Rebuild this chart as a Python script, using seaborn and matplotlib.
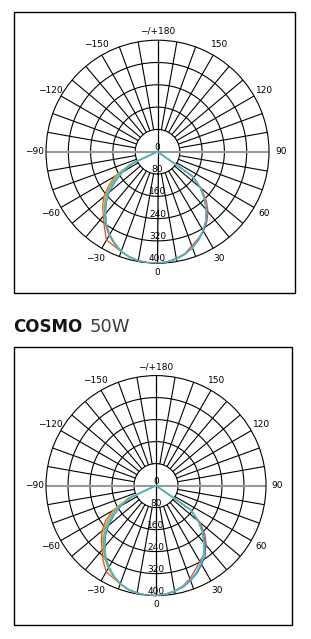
import numpy as np
import pandas as pd
import matplotlib
matplotlib.use("Agg")
import matplotlib.pyplot as plt
from matplotlib.patches import Rectangle
import seaborn as sns

sns.set_style("white")
plt.rcParams['font.family'] = ['DejaVu Sans']

# ---------------- data ----------------
ANGLES = [-90, -85, -80, -75, -70, -65, -60, -55, -50, -45, -40, -35, -30, -25, -20, -15, -10, -5,
          0, 5, 10, 15, 20, 25, 30, 35, 40, 45, 50, 55, 60, 65, 70, 75, 80, 85, 90]

SERIES = ["C0", "C45", "C90", "C135", "C180"]
COLORS = ["#e2463f", "#e9a93a", "#67b85a", "#3d6fd6", "#4cc3c6"]

# top diagram (cd)
TOP_RED    = [0, 0, 0, 0, 0, 105, 178, 214, 252, 278, 302, 332, 366, 372, 381, 390, 396, 399,
              399, 396, 389, 378, 360, 344, 330, 308, 282, 248, 205, 150, 0, 0, 0, 0, 0, 0, 0]
TOP_ORANGE = [0, 0, 0, 0, 0, 114, 172, 207, 246, 273, 298, 325, 348, 366, 382, 392, 398, 400,
              400, 397, 390, 380, 366, 348, 327, 304, 274, 240, 202, 156, 0, 0, 0, 0, 0, 0, 0]
TOP_GREEN  = [0, 0, 0, 0, 0, 108, 163, 200, 238, 268, 295, 322, 345, 364, 381, 391, 397, 400,
              400, 397, 390, 380, 366, 348, 326, 302, 271, 237, 199, 152, 0, 0, 0, 0, 0, 0, 0]
TOP_BLUE   = [0, 0, 0, 0, 0, 94, 144, 184, 226, 260, 290, 320, 344, 363, 380, 391, 397, 400,
              400, 397, 391, 381, 367, 350, 328, 306, 273, 238, 200, 154, 0, 0, 0, 0, 0, 0, 0]
TOP_CYAN   = [0, 0, 0, 0, 0, 100, 150, 190, 230, 262, 290, 318, 342, 362, 380, 391, 397, 400,
              400, 397, 390, 380, 366, 348, 326, 303, 272, 238, 200, 155, 0, 0, 0, 0, 0, 0, 0]

# bottom diagram (cd)
BOT_RED    = [0, 0, 0, 0, 0, 110, 182, 224, 256, 281, 305, 335, 362, 370, 380, 390, 396, 399,
              399, 396, 389, 378, 360, 338, 318, 304, 284, 252, 210, 152, 0, 0, 0, 0, 0, 0, 0]
BOT_ORANGE = [0, 0, 0, 0, 0, 116, 174, 212, 249, 275, 300, 326, 348, 366, 382, 392, 398, 400,
              400, 397, 390, 380, 366, 348, 327, 304, 275, 242, 204, 158, 0, 0, 0, 0, 0, 0, 0]
BOT_GREEN  = [0, 0, 0, 0, 0, 110, 165, 202, 240, 270, 296, 322, 345, 364, 381, 391, 397, 400,
              400, 397, 390, 380, 366, 348, 326, 302, 271, 237, 199, 152, 0, 0, 0, 0, 0, 0, 0]
BOT_BLUE   = [0, 0, 0, 0, 0, 96, 146, 186, 226, 260, 290, 318, 342, 362, 380, 391, 397, 400,
              400, 397, 391, 382, 368, 352, 332, 312, 280, 242, 202, 155, 0, 0, 0, 0, 0, 0, 0]
BOT_CYAN   = [0, 0, 0, 0, 0, 102, 152, 192, 232, 264, 290, 318, 342, 362, 380, 391, 397, 400,
              400, 397, 390, 380, 366, 348, 326, 303, 272, 238, 200, 155, 0, 0, 0, 0, 0, 0, 0]

RING_VALUES = [0, 80, 160, 240, 320, 400]
ANGLE_TICKS = [0, 30, 60, 90, 120, 150, 180, -150, -120, -90, -60, -30]
ANGLE_LABELS = ["0", "30", "60", "90", "120", "150", "\u2212/+180", "\u2212150", "\u2212120",
                "\u221290", "\u221260", "\u221230"]

TITLE_BOLD = "COSMO"
TITLE_LIGHT = "50W"

W, H = 311, 639


def long_frame(curves):
    rows = []
    for name, vals in zip(SERIES, curves):
        for a, v in zip(ANGLES, vals):
            rows.append({"theta": np.deg2rad(a), "r": v, "series": name})
    return pd.DataFrame(rows)


def draw_diagram(ax, curves):
    ax.set_theta_zero_location("S")
    ax.set_theta_direction(1)
    ax.set_ylim(0, 400)
    ax.grid(False)
    ax.set_xticks([])
    ax.set_yticks([])
    ax.spines["polar"].set_linewidth(0.8)
    ax.spines["polar"].set_color("black")
    ax.set_facecolor("white")
    circ = np.linspace(0, 2 * np.pi, 361)
    for rv in RING_VALUES[1:-1]:
        ax.plot(circ, np.full_like(circ, rv), color="black", lw=0.8, zorder=1)
    for deg in range(0, 360, 10):
        if deg % 90 == 0:
            continue
        t = np.deg2rad(deg)
        ax.plot([t, t], [80, 400], color="black", lw=0.8, zorder=1)
    # vertical axis line (black) and horizontal axis line (gray)
    ax.plot([0, 0], [0, 400], color="black", lw=0.9, zorder=1)
    ax.plot([np.pi, np.pi], [0, 400], color="black", lw=0.9, zorder=1)
    ax.plot([np.pi / 2, np.pi / 2], [0, 400], color="#9a9a9a", lw=1.5, zorder=1)
    ax.plot([-np.pi / 2, -np.pi / 2], [0, 400], color="#9a9a9a", lw=1.5, zorder=1)

    df = long_frame(curves)
    sns.lineplot(data=df, x="theta", y="r", hue="series", palette=COLORS, sort=False,
                 estimator=None, legend=False, lw=0.9, ax=ax, zorder=3)
    ax.set_xlabel("")
    ax.set_ylabel("")

    for rv in RING_VALUES:
        ax.text(0, rv, str(rv), ha="center", va="bottom", fontsize=6.5, color="black",
                zorder=4)
    for a, lab in zip(ANGLE_TICKS, ANGLE_LABELS):
        rr = 432 if a % 180 == 0 else 442
        ax.text(np.deg2rad(a), rr, lab, ha="center", va="center", fontsize=6.5,
                color="black", clip_on=False)


fig = plt.figure(figsize=(W / 100, H / 100), dpi=100)

# frames
fig.add_artist(Rectangle((14 / W, 1 - 293 / H), (295 - 14) / W, (293 - 12) / H,
                         transform=fig.transFigure, fill=False, lw=1.0, ec="black"))
fig.add_artist(Rectangle((14 / W, 1 - 625 / H), (292 - 14) / W, (625 - 347) / H,
                         transform=fig.transFigure, fill=False, lw=1.0, ec="black"))

cx, cy, R = 157.5, 151.7, 111.5
ax1 = fig.add_axes([(cx - R) / W, 1 - (cy + R) / H, 2 * R / W, 2 * R / H], projection="polar")
draw_diagram(ax1, [TOP_RED, TOP_ORANGE, TOP_GREEN, TOP_BLUE, TOP_CYAN])

cx, cy, R = 156.0, 485.6, 110.0
ax2 = fig.add_axes([(cx - R) / W, 1 - (cy + R) / H, 2 * R / W, 2 * R / H], projection="polar")
draw_diagram(ax2, [BOT_RED, BOT_ORANGE, BOT_GREEN, BOT_BLUE, BOT_CYAN])

# title
fig.text(13.5 / W, 1 - 332 / H, TITLE_BOLD, fontsize=12, fontweight="bold",
         family=["DejaVu Sans"], color="#151515", va="baseline", ha="left")
fig.text(89.5 / W, 1 - 332 / H, TITLE_LIGHT, fontsize=13, fontweight="normal",
         family=["DejaVu Sans"], color="#3c3c3c", va="baseline", ha="left")

fig.savefig("out.png", dpi=100, facecolor="white")
